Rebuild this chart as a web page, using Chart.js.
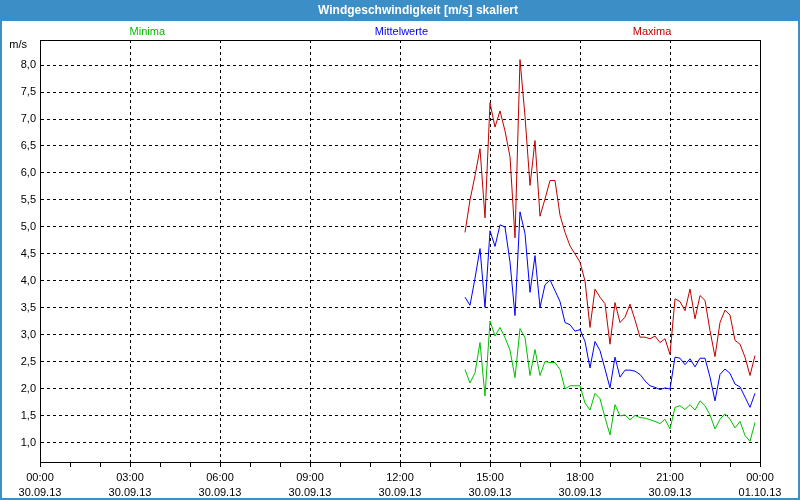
<!DOCTYPE html>
<html><head><meta charset="utf-8">
<script src="https://cdn.jsdelivr.net/npm/chart.js@4/dist/chart.umd.min.js"></script>
<style>html,body{margin:0;padding:0;background:#fff;overflow:hidden}#wrap{position:relative;width:800px;height:500px}</style>
</head><body><div id="wrap"><canvas id="c" width="800" height="500"></canvas></div>
<script>
const chartTitle = "Windgeschwindigkeit [m/s] skaliert";
const unitLabel = "m/s";
const seriesNames = ["Minima", "Mittelwerte", "Maxima"];
const seriesColors = ["#00c000", "#0000ff", "#c00000"];

const times = ["14:10","14:20","14:30","14:40","14:50",
  "15:00","15:10","15:20","15:30","15:40","15:50",
  "16:00","16:10","16:20","16:30","16:40","16:50",
  "17:00","17:10","17:20","17:30","17:40","17:50",
  "18:00","18:10","18:20","18:30","18:40","18:50",
  "19:00","19:10","19:20","19:30","19:40","19:50",
  "20:00","20:10","20:20","20:30","20:40","20:50",
  "21:00","21:10","21:20","21:30","21:40","21:50",
  "22:00","22:10","22:20","22:30","22:40","22:50",
  "23:00","23:10","23:20","23:30","23:40","23:50"];

const minima = [2.36,2.11,2.30,2.86,1.87,
  3.26,2.98,3.14,2.95,2.72,2.21,
  3.12,2.95,2.25,2.73,2.25,2.51,
  2.49,2.49,2.36,2.00,2.06,2.06,
  2.06,1.74,1.61,1.92,1.82,1.47,
  1.15,1.71,1.50,1.52,1.43,1.51,
  1.47,1.46,1.43,1.40,1.36,1.44,
  1.26,1.66,1.69,1.62,1.71,1.61,
  1.78,1.69,1.52,1.26,1.44,1.54,
  1.44,1.28,1.40,1.14,1.03,1.38];

const mittelwerte = [3.70,3.55,4.05,4.60,3.51,
  4.93,4.64,5.04,5.00,4.35,3.36,
  5.28,4.88,3.79,4.47,3.51,3.93,
  4.02,3.82,3.62,3.23,3.19,3.07,
  3.10,2.88,2.39,2.88,2.71,2.37,
  2.02,2.59,2.22,2.35,2.35,2.33,
  2.27,2.15,2.06,2.03,1.99,2.02,
  2.00,2.59,2.57,2.45,2.56,2.41,
  2.57,2.57,2.22,1.78,2.27,2.37,
  2.29,2.09,2.04,1.85,1.66,1.92];

const maxima = [4.90,5.50,5.95,6.45,5.17,
  7.30,6.85,7.15,6.78,6.30,4.80,
  8.10,7.05,5.77,6.60,5.20,5.52,
  5.86,5.86,5.22,4.90,4.65,4.50,
  4.35,4.00,3.14,3.85,3.70,3.58,
  2.83,3.60,3.23,3.33,3.57,3.28,
  2.96,2.96,2.93,2.98,2.86,2.93,
  2.64,3.67,3.62,3.45,3.85,3.30,
  3.73,3.64,3.08,2.60,3.23,3.46,
  3.37,2.90,2.83,2.59,2.25,2.62];

const yTicks = [1.0,1.5,2.0,2.5,3.0,3.5,4.0,4.5,5.0,5.5,6.0,6.5,7.0,7.5,8.0];
const xTickHours = [0,1,2,3,4,5,6,7,8,9,10,11,12,13,14,15,16,17,18,19,20,21,22,23,24];
const xLabelTimes = ["00:00","03:00","06:00","09:00","12:00","15:00","18:00","21:00","00:00"];
const xLabelDates = ["30.09.13","30.09.13","30.09.13","30.09.13","30.09.13","30.09.13","30.09.13","30.09.13","01.10.13"];

function toHours(t){ const p = t.split(":"); return (+p[0]) + (+p[1])/60; }
function series(vals){ return vals.map((v,i)=>({x: toHours(times[i]), y: v})); }

const FONT = "'Liberation Sans', Arial, sans-serif";

const decor = {
  id: 'decor',
  beforeDraw(chart){
    const ctx = chart.ctx;
    ctx.save();
    ctx.fillStyle = '#ffffff';
    ctx.fillRect(0,0,chart.width,chart.height);
    ctx.fillStyle = '#3b8ec6';
    ctx.fillRect(0,0,chart.width,21);
    ctx.restore();
  },
  afterDraw(chart){
    const ctx = chart.ctx, a = chart.chartArea;
    ctx.save();
    ctx.strokeStyle = '#000'; ctx.lineWidth = 1; ctx.setLineDash([]);
    ctx.strokeRect(Math.round(a.left)+0.5, Math.round(a.top)+0.5, Math.round(a.right)-Math.round(a.left), Math.round(a.bottom)-Math.round(a.top));
    ctx.fillStyle = '#3b8ec6';
    ctx.fillRect(0,0,2,chart.height);
    ctx.fillRect(chart.width-2,0,2,chart.height);
    ctx.fillRect(0,chart.height-2,chart.width,2);
    ctx.fillStyle = '#ffffff';
    ctx.font = "bold 12px " + FONT;
    ctx.textAlign = 'center'; ctx.textBaseline = 'middle';
    ctx.fillText(chartTitle, 418, 10.5);
    ctx.font = "11px " + FONT;
    const fr = [0.149, 0.502, 0.85];
    chart.data.datasets.forEach((ds,i)=>{
      ctx.fillStyle = ds.borderColor;
      ctx.fillText(ds.label, a.left + (a.right-a.left)*fr[i], 32);
    });
    ctx.fillStyle = '#000';
    ctx.textAlign = 'right';
    ctx.fillText(unitLabel, 27, 45);
    ctx.restore();
  }
};

new Chart(document.getElementById('c'), {
  type: 'line',
  data: {
    datasets: [
      {label: seriesNames[0], data: series(minima), borderColor: seriesColors[0], borderWidth: 1, pointRadius: 0, tension: 0, fill: false},
      {label: seriesNames[1], data: series(mittelwerte), borderColor: seriesColors[1], borderWidth: 1, pointRadius: 0, tension: 0, fill: false},
      {label: seriesNames[2], data: series(maxima), borderColor: seriesColors[2], borderWidth: 1, pointRadius: 0, tension: 0, fill: false}
    ]
  },
  options: {
    responsive: false,
    animation: false,
    devicePixelRatio: 1,
    layout: {padding: {top: 40, right: 40, left: 0, bottom: 0}},
    plugins: {legend: {display: false}, title: {display: false}, tooltip: {enabled: false}},
    scales: {
      x: {
        type: 'linear', min: 0, max: 24,
        afterBuildTicks: s => { s.ticks = xTickHours.map(v => ({value: v})); },
        afterFit: s => { s.height = 38; },
        ticks: {
          autoSkip: false, maxRotation: 0, minRotation: 0, padding: 3,
          color: '#000', font: {family: FONT, size: 11, lineHeight: 1.38},
          callback: v => (v % 3 === 0) ? [xLabelTimes[v/3], xLabelDates[v/3]] : ''
        },
        grid: {
          color: c => (c.tick && c.tick.value % 3 === 0) ? '#000' : 'rgba(0,0,0,0)',
          tickBorderDash: [], tickColor: '#000', tickLength: 5, lineWidth: 1, drawTicks: true
        },
        border: {display: true, color: '#000', width: 1, dash: [3,3]}
      },
      y: {
        type: 'linear', min: 0.648, max: 8.463,
        afterBuildTicks: s => { s.ticks = yTicks.map(v => ({value: v})); },
        afterFit: s => { s.width = 40; },
        ticks: {
          padding: 4, color: '#000', font: {family: FONT, size: 11},
          callback: v => Number(v).toFixed(1).replace('.', ',')
        },
        grid: {color: '#000', drawTicks: false, lineWidth: 1},
        border: {display: true, color: '#000', width: 1, dash: [3,3]}
      }
    }
  },
  plugins: [decor]
});
</script>
</body></html>
